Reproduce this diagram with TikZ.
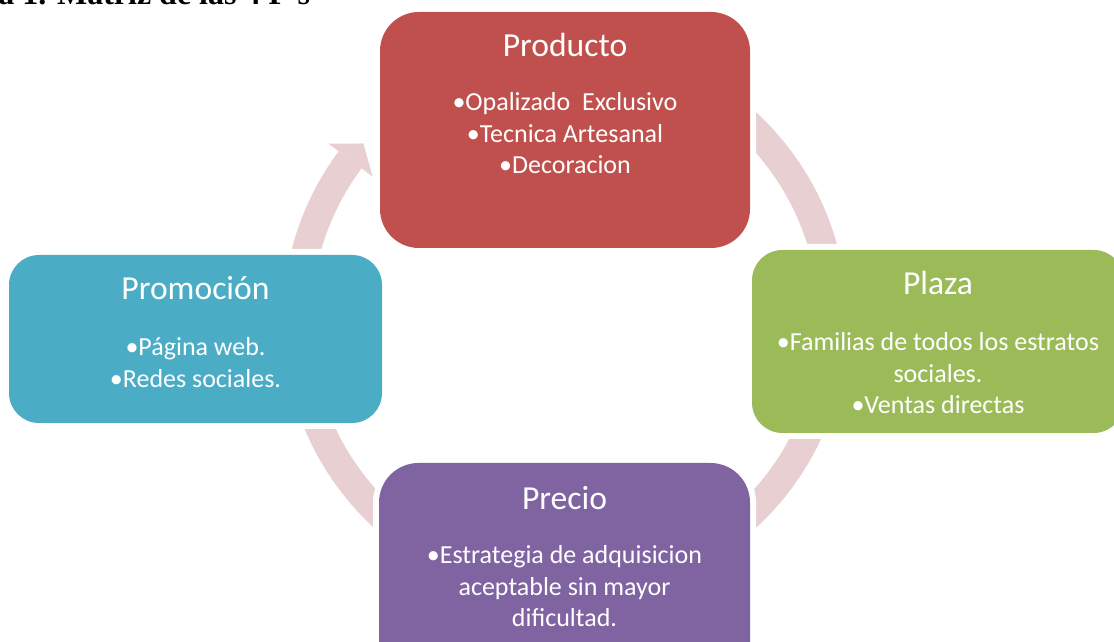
\documentclass[tikz,border=0pt]{standalone}
\usepackage{fontspec}
\setmainfont{Carlito}
\newfontfamily\encabfont{Liberation Serif}
\usetikzlibrary{calc}
\begin{document}
\begin{tikzpicture}[x=0.5pt,y=0.5pt,
        caja/.style={rounded corners=#1, inner sep=0pt, preaction={draw=white, line width=6pt}},
        titulo/.style={text=white, font=\fontsize{16.8pt}{19pt}\selectfont, inner sep=0pt, anchor=base},
        lista/.style={text=white, font=\fontsize{13pt}{15.75pt}\selectfont, align=center, inner sep=0pt, anchor=base},
        anillo/.style={draw=rosa, line width=14.25pt}]
            \definecolor{rojo}{HTML}{C0504D}
            \definecolor{verde}{HTML}{9BBB59}
            \definecolor{azul}{HTML}{4BACC6}
            \definecolor{morado}{HTML}{8064A2}
            \definecolor{rosa}{HTML}{E8CFD1}
            \useasboundingbox (0,0) rectangle (1114,642);
            \node[anchor=base west, inner sep=0pt, font=\encabfont\bfseries\fontsize{16pt}{19pt}\selectfont] (encab) at (-2,637.5) {a 1. Matriz de las 4 P’s};
            \coordinate (c) at (565,322);
            \draw[anillo] ($(c)+(130:268)$) arc[start angle=130, end angle=-216.7, radius=268];
            \fill[rosa] ($(c)+(143.3:295)$) -- ($(c)+(138.8:268)$) -- ($(c)+(143.3:240)$) -- cycle;
            \node[caja=19.5pt, fill=rojo,   minimum width=185pt, minimum height=118pt]   (prod)   at (565,512)   {};
            \node[caja=15pt,   fill=azul,   minimum width=186.5pt, minimum height=84pt]  (promo)  at (195.5,303) {};
            \node[caja=15.25pt, fill=verde, minimum width=186pt, minimum height=91.5pt]  (plaza)  at (938,300.5) {};
            \node[caja=19.75pt, fill=morado, minimum width=185.5pt, minimum height=118.5pt] (precio) at (564.5,60.5) {};
            \node[titulo] (prodT)   at ($(prod.north)+(0,-45)$)   {Producto};
            \node[titulo] (promoT)  at ($(promo.north)+(0,-45)$)  {Promoción};
            \node[titulo] (plazaT)  at ($(plaza.north)+(0,-45)$)  {Plaza};
            \node[titulo] (precioT) at ($(precio.north)+(0,-47)$) {Precio};
            \node[lista] (prodL)   at ($(prodT.base)+(0,-117)$)   {•Opalizado\ \ Exclusivo\\•Tecnica Artesanal\\•Decoracion};
            \node[lista] (promoL)  at ($(promoT.base)+(0,-87.5)$) {•Página web.\\•Redes sociales.};
            \node[lista] (plazaL)  at ($(plazaT.base)+(0,-119)$)  {•Familias de todos los estratos\\sociales.\\•Ventas directas};
            \node[lista] (precioL) at ($(precioT.base)+(0,-117)$) {•Estrategia de adquisicion\\aceptable sin mayor\\dificultad.};
        \end{tikzpicture}
\end{document}
